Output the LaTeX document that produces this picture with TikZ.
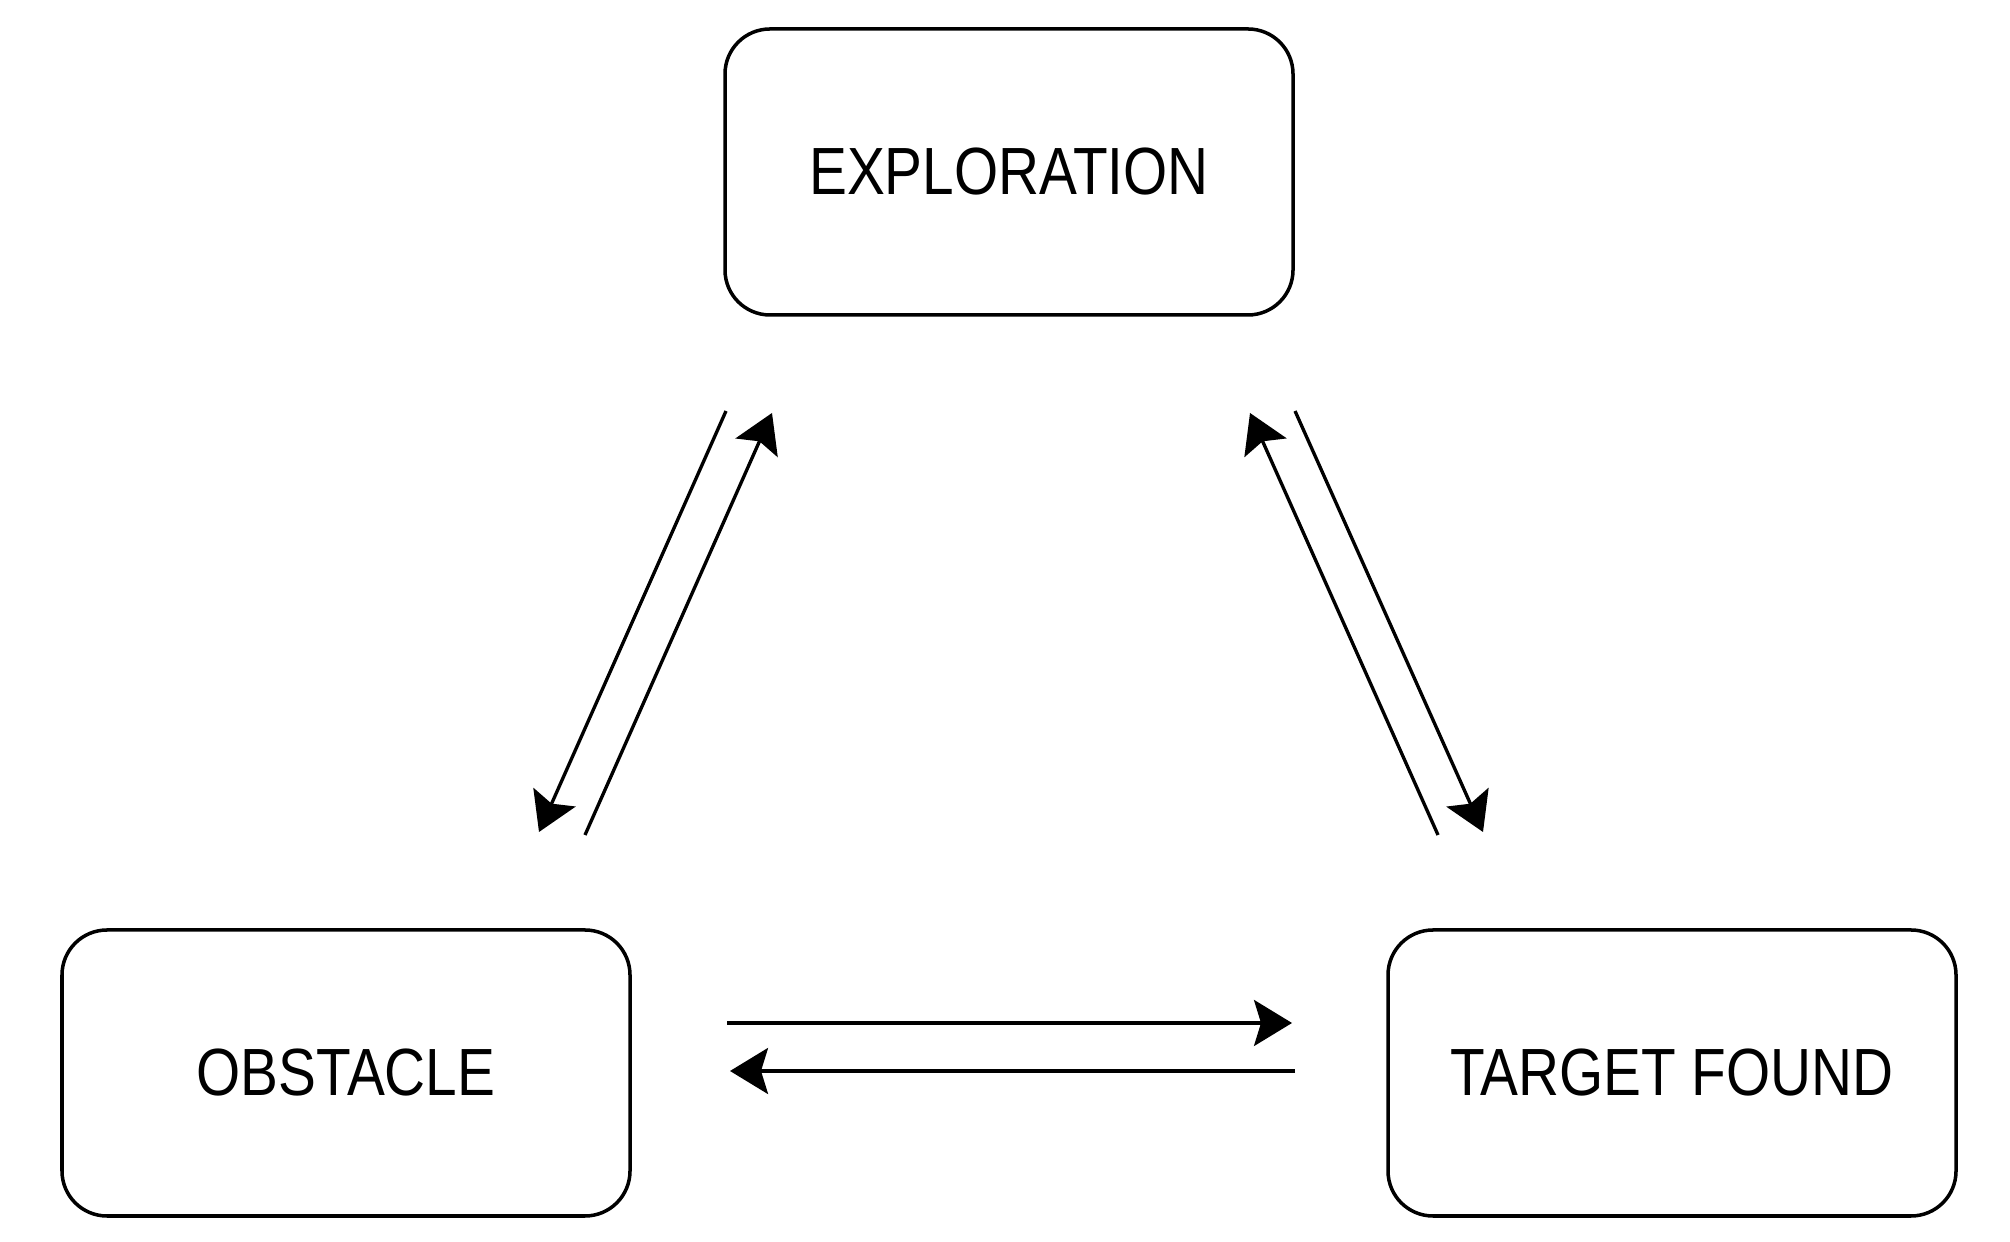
\documentclass[tikz,border=0pt]{standalone}
\usepackage{fontspec}
\setmainfont{Liberation Sans}
\usetikzlibrary{arrows.meta}
\begin{document}
\begin{tikzpicture}[state/.style={draw,line width=1pt,rounded corners=0.45cm,minimum width=5.68cm,minimum height=2.86cm,font=\fontsize{19}{22}\selectfont},
trans/.style={-{Stealth[length=0.38cm,width=0.46cm,inset=0.07cm]},line width=0.95pt}]
\useasboundingbox (0,0) rectangle (20.1,12.42);
\node[state] (expl) at (10.09,10.70) {\scalebox{0.85}[1]{EXPLORATION}};
\node[state] (obst) at (3.46,1.69) {\scalebox{0.85}[1]{OBSTACLE}};
\node[state] (targ) at (16.72,1.69) {\scalebox{0.85}[1]{TARGET FOUND}};
% arrow ends
\coordinate (eo1) at (7.26,8.31);
\coordinate (oe1) at (5.39,4.10);
\coordinate (oe2) at (5.85,4.07);
\coordinate (eo2) at (7.72,8.29);
\coordinate (te1) at (14.38,4.07);
\coordinate (et1) at (12.50,8.29);
\coordinate (et2) at (12.95,8.31);
\coordinate (te2) at (14.83,4.10);
\coordinate (ot1) at (7.27,2.19);
\coordinate (to1) at (12.92,2.19);
\coordinate (to2) at (12.95,1.71);
\coordinate (ot2) at (7.30,1.71);
\draw [trans] (eo1) -- (oe1);
\draw [trans] (oe2) -- (eo2);
\draw [trans] (te1) -- (et1);
\draw [trans] (et2) -- (te2);
\draw [trans] (ot1) -- (to1);
\draw [trans] (to2) -- (ot2);
\end{tikzpicture}
\end{document}
